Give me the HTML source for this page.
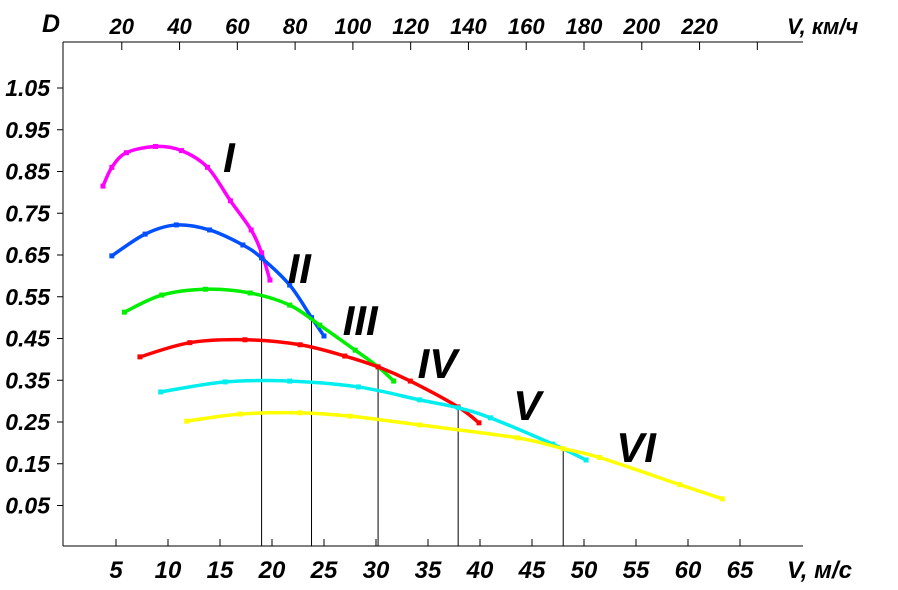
<!DOCTYPE html>
<html><head><meta charset="utf-8"><style>
body{margin:0;background:#fff}
svg text{font-family:"Liberation Sans",sans-serif;font-style:italic;font-weight:bold;fill:#000}
</style></head><body>
<svg id="c" width="898" height="585" xmlns="http://www.w3.org/2000/svg"></svg>
<script>
const xTicks=[5,10,15,20,25,30,35,40,45,50,55,60,65];
const topTicks=[20,40,60,80,100,120,140,160,180,200,220];
const yTicks=[1.05,0.95,0.85,0.75,0.65,0.55,0.45,0.35,0.25,0.15,0.05];
const seriesNames=["I","II","III","IV","V","VI"];
const seriesColors=["#ff00ff","#0050ff","#00ee00","#ff0000","#00eeee","#ffff00"];
const sI=[[3.75,0.815],[4.6,0.86],[6,0.895],[8.8,0.91],[11.3,0.9],[13.8,0.86],[16,0.78],[18,0.71],[19,0.655],[19.8,0.59]];
const sII=[[4.6,0.648],[7.8,0.70],[10.8,0.722],[14,0.71],[17.2,0.674],[19,0.643],[21.7,0.578],[23.8,0.50],[25,0.456]];
const sIII=[[5.8,0.513],[9.4,0.554],[13.6,0.568],[17.9,0.559],[21.7,0.53],[24.6,0.482],[28,0.422],[30.2,0.382],[31.7,0.348]];
const sIV=[[7.3,0.406],[12.1,0.44],[17.4,0.447],[22.7,0.435],[27,0.408],[30.2,0.382],[33.3,0.348],[37.9,0.286],[39.9,0.248]];
const sV=[[9.3,0.322],[15.5,0.346],[21.7,0.348],[28.3,0.334],[34.2,0.303],[37.9,0.284],[41,0.26],[47,0.197],[50.2,0.159]];
const sVI=[[11.8,0.252],[16.9,0.269],[22.7,0.272],[27.5,0.264],[34.2,0.243],[43.6,0.212],[48,0.186],[51.5,0.165],[59.2,0.1],[63.3,0.066]];
const crossings=[[19,0.643],[23.8,0.50],[30.2,0.382],[37.9,0.284],[48,0.186]];
const labelPos=[[15.3,0.849],[21.5,0.583],[26.8,0.458],[34,0.355],[43.2,0.255],[53.1,0.154]];

const X=v=>64+10.4*v, Y=d=>88+(1.05-d)*417.5;
const svg=document.getElementById('c');
const NS="http://www.w3.org/2000/svg";
function mk(t,a,p){const e=document.createElementNS(NS,t);for(const k in a)e.setAttribute(k,a[k]);(p||svg).appendChild(e);return e;}
let e;
e=mk('line',{x1:63,y1:42,x2:63,y2:546,stroke:'#000'});


e=mk('line',{x1:63,y1:546,x2:803,y2:546,stroke:'#000'});


e=mk('line',{x1:63,y1:42,x2:803,y2:42,stroke:'#000'});


xTicks.forEach(v=>{
 e=mk('line',{x1:X(v),y1:539,x2:X(v),y2:546,stroke:'#000'});
 
 
 e=mk('text',{x:X(v),y:578,'font-size':24,'text-anchor':'middle'});e.textContent=v;
 
 
});
topTicks.forEach(k=>{
 const v=k/3.6;
 e=mk('line',{x1:X(v),y1:42,x2:X(v),y2:50,stroke:'#000'});
 
 
 e=mk('text',{x:X(v),y:34,'font-size':22,'text-anchor':'middle'});e.textContent=k;
 
 
});
e=mk('line',{x1:X(240/3.6),y1:42,x2:X(240/3.6),y2:50,stroke:'#000'});


yTicks.forEach(d=>{
 e=mk('line',{x1:57,y1:Y(d),x2:63,y2:Y(d),stroke:'#000'});
 
 
 e=mk('text',{x:50,y:Y(d)+8,'font-size':23,'text-anchor':'end'});e.textContent=d.toFixed(2);
 
 
});
e=mk('text',{x:42,y:32,'font-size':25});e.textContent='D';


e=mk('text',{x:787,y:34,'font-size':22});e.textContent='V, км/ч';


e=mk('text',{x:787,y:578,'font-size':24});e.textContent='V, м/с';


crossings.forEach(c=>{
 e=mk('line',{x1:X(c[0]),y1:Y(c[1]),x2:X(c[0]),y2:546,stroke:'#000','stroke-width':1});
 
 
});
function path(p){
 const q=p.map(a=>[X(a[0]),Y(a[1])]);let s='M'+q[0];
 for(let i=0;i<q.length-1;i++){const p0=q[Math.max(0,i-1)],p1=q[i],p2=q[i+1],p3=q[Math.min(q.length-1,i+2)];
  s+=' C'+(p1[0]+(p2[0]-p0[0])/6)+','+(p1[1]+(p2[1]-p0[1])/6)+' '+(p2[0]-(p3[0]-p1[0])/6)+','+(p2[1]-(p3[1]-p1[1])/6)+' '+p2;}
 return s;}
[sI,sII,sIII,sIV,sV,sVI].forEach((s,i)=>{
 e=mk('path',{d:path(s),fill:'none',stroke:seriesColors[i],'stroke-width':3.5});
 
 
 s.forEach(p=>{
  e=mk('rect',{x:X(p[0])-2.5,y:Y(p[1])-2.5,width:5,height:5,fill:seriesColors[i]});
  
  
 });
 e=mk('text',{x:X(labelPos[i][0]),y:Y(labelPos[i][1]),'font-size':42,'font-weight':'normal'});e.textContent=seriesNames[i];
 
 
});
</script>
</body></html>
